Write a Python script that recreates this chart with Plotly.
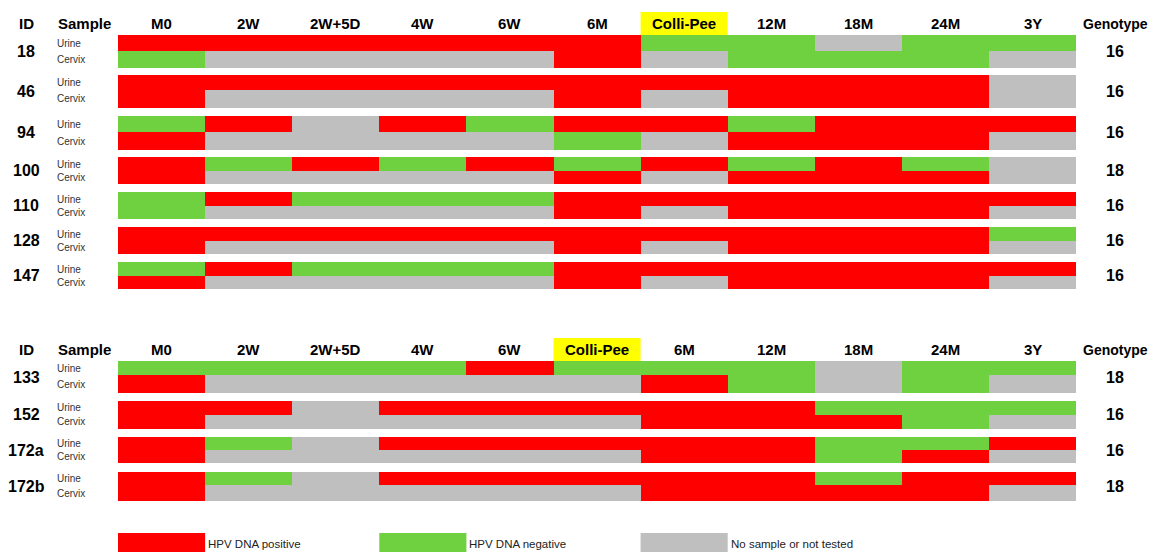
import plotly.graph_objects as go

# column headers of the two panels
columns_top = ["M0", "2W", "2W+5D", "4W", "6W", "6M", "Colli-Pee", "12M", "18M", "24M", "3Y"]
columns_bottom = ["M0", "2W", "2W+5D", "4W", "6W", "Colli-Pee", "6M", "12M", "18M", "24M", "3Y"]

# P = HPV DNA positive, N = HPV DNA negative, X = no sample or not tested
ids_top = ["18", "46", "94", "100", "110", "128", "147"]
genotype_top = ["16", "16", "16", "18", "16", "16", "16"]
urine_top = [
    "P P P P P P N N X N N",
    "P P P P P P P P P P X",
    "N P X P N P P N P P P",
    "P N P N P N P N P N X",
    "N P N N N P P P P P P",
    "P P P P P P P P P P N",
    "N P N N N P P P P P P",
]
cervix_top = [
    "N X X X X P X N N N X",
    "P X X X X P X P P P X",
    "P X X X X N X P P P X",
    "P X X X X P X P P P X",
    "N X X X X P X P P P X",
    "P X X X X P X P P P X",
    "P X X X X P X P P P X",
]

ids_bottom = ["133", "152", "172a", "172b"]
genotype_bottom = ["18", "16", "16", "18"]
urine_bottom = [
    "N N N N P N N N X N N",
    "P P X P P P P P N N N",
    "P N X P P P P P N N P",
    "P N X P P P P P N P P",
]
cervix_bottom = [
    "P X X X X X P N X N X",
    "P X X X X X P P P N X",
    "P X X X X X P P N P X",
    "P X X X X X P P P P X",
]

legend_labels = ["HPV DNA positive", "HPV DNA negative", "No sample or not tested"]
RED, GREEN, GREY = "#FF0000", "#6FD040", "#BFBFBF"
code = {"P": 0, "N": 1, "X": 2}

# geometry (pixels, figure drawn 1:1)
W, H = 1153, 552
x0, col_w = 118, 87.1
x_edges = [x0 + i * col_w for i in range(12)]
top_pairs = [(35, 51, 67.7), (75.3, 90, 107.7), (115.7, 132.3, 150), (157.3, 170.7, 184.3),
             (192.3, 205.7, 219.3), (227.3, 240.7, 254.3), (262.3, 275.7, 289.3)]
bottom_pairs = [(361, 375, 393.3), (401, 414.7, 428.7), (436.7, 450, 463.3), (471.7, 485, 501)]
head_y_top, head_y_bottom = 23.5, 349.5

fig = go.Figure()
ann = []


def block(pairs, urine, cervix, ids, geno, cols, head_y):
    edges, z = [], []
    for i, (t, m, b) in enumerate(pairs):
        if edges:
            z.append([None] * 11)
        edges += [t, m, b]
        z.append([code[c] for c in urine[i].split()])
        z.append([code[c] for c in cervix[i].split()])
        ann.append(dict(x=26, y=(t + b) / 2, text="<b>%s</b>" % ids[i], font=dict(size=16)))
        ann.append(dict(x=1115, y=(t + b) / 2, text="<b>%s</b>" % geno[i], font=dict(size=16)))
        ann.append(dict(x=55, y=(t + m) / 2, text="Urine", xanchor="left", font=dict(size=10, color="#333")))
        ann.append(dict(x=55, y=(m + b) / 2, text="Cervix", xanchor="left", font=dict(size=10, color="#333")))
    fig.add_trace(go.Heatmap(
        x=x_edges, y=edges, z=z, zmin=0, zmax=2, showscale=False, hoverinfo="skip",
        colorscale=[[0, RED], [0.333, RED], [0.333, GREEN], [0.667, GREEN], [0.667, GREY], [1, GREY]],
    ))
    ann.append(dict(x=26, y=head_y, text="<b>ID</b>", font=dict(size=15)))
    ann.append(dict(x=84, y=head_y, text="<b>Sample</b>", font=dict(size=15)))
    ann.append(dict(x=1115, y=head_y, text="<b>Genotype</b>", font=dict(size=14)))
    for i, c in enumerate(cols):
        cx = x0 + (i + 0.5) * col_w
        if c == "Colli-Pee":
            fig.add_shape(type="rect", x0=x_edges[i], x1=x_edges[i + 1], y0=head_y - 11.5,
                          y1=head_y + 12, fillcolor="#FFFF00", line_width=0, layer="below")
        ann.append(dict(x=cx, y=head_y, text="<b>%s</b>" % c, font=dict(size=15)))


block(top_pairs, urine_top, cervix_top, ids_top, genotype_top, columns_top, head_y_top)
block(bottom_pairs, urine_bottom, cervix_bottom, ids_bottom, genotype_bottom, columns_bottom, head_y_bottom)

# legend swatches under columns 1, 4 and 7
for k, (lab, col) in enumerate(zip(legend_labels, [RED, GREEN, GREY])):
    i = 3 * k
    fig.add_shape(type="rect", x0=x_edges[i], x1=x_edges[i + 1], y0=533, y1=552,
                  fillcolor=col, line_width=0)
    ann.append(dict(x=x_edges[i + 1] + 1, y=543.5, text=lab, xanchor="left",
                    font=dict(size=11.5, color="#222")))

for a in ann:
    a.setdefault("xanchor", "center")
    a.update(xref="x", yref="y", showarrow=False, yanchor="middle")
    a["font"].setdefault("color", "black")
    a["font"]["family"] = "Liberation Sans, Arial, sans-serif"

fig.update_layout(
    width=W, height=H, margin=dict(l=0, r=0, t=0, b=0, pad=0),
    plot_bgcolor="white", paper_bgcolor="white", annotations=ann,
    xaxis=dict(range=[0, W], visible=False, fixedrange=True),
    yaxis=dict(range=[H, 0], visible=False, fixedrange=True),
)
# page body has an 8px default margin; drop it so the figure sits at 0,0
fig.write_html("out.html", config={"displayModeBar": False},
               post_script="document.body.style.margin='0';")
